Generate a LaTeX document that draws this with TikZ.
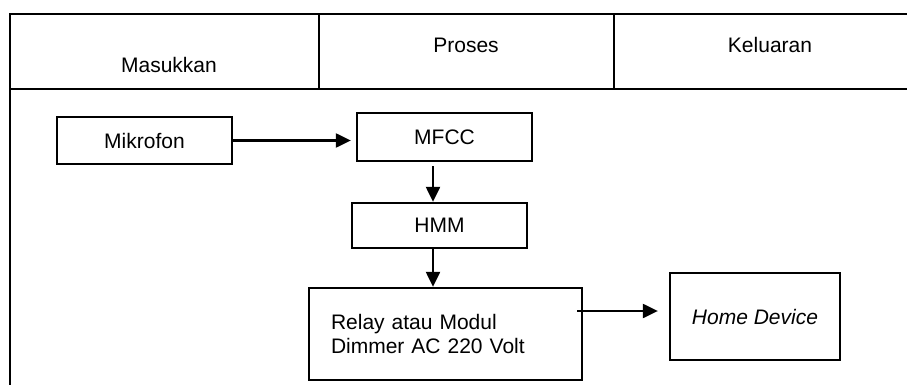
\documentclass[tikz,border=0pt]{standalone}
\usepackage{fontspec}
\setmainfont{Liberation Sans}
\usetikzlibrary{arrows.meta, positioning, calc}

\begin{document}
\begin{tikzpicture}[x=1pt, y=-1pt,
  font=\fontsize{21}{24}\selectfont,
  blok/.style={draw, line width=2.3pt, inner sep=0pt, minimum width=175pt, minimum height=47pt},
  garis/.style={line width=2.2pt},
  panah/.style={line width=2.2pt, -{Triangle[length=15pt, width=14pt]}}]
  \useasboundingbox (0,0) rectangle (907,385);

  % tabel
  \draw[garis] (907,14) -- (10,14) -- (10,385);
  \draw[garis] (10,89) -- (907,89);
  \draw[garis] (319,14) -- (319,89);
  \draw[garis] (614,14) -- (614,89);
  \node (masukkan) at (169,65) {Masukkan};
  \node (proses) at (466,45) {Proses};
  \node (keluaran) at (770,45) {Keluaran};

  % blok
  \node[blok] (mik) at (144.5,140.5) {Mikrofon};
  \node[blok, minimum height=48pt] (mfcc) at (444.5,137) {MFCC};
  \node[blok, minimum height=45pt] (hmm) at (439.5,225.5) {HMM};
  \node[blok, minimum width=273pt, minimum height=92pt, text width=229pt, inner xsep=22pt, align=left] (relay) at (445.5,334) {Relay atau Modul\\Dimmer AC 220 Volt};
  \node[blok, minimum width=170pt, minimum height=87pt] (home) at (755,316.5) {\itshape Home Device};

  % panah
  \coordinate (kolom) at (433,0);
  \coordinate (keluar) at (0,311);
  \draw[panah, shorten >=5pt] (mik.east) -- (mik.east -| mfcc.west);
  \draw[panah, shorten <=4pt] (mfcc.south -| kolom) -- (hmm.north -| kolom);
  \draw[panah] (hmm.south -| kolom) -- (relay.north -| kolom);
  \draw[panah, shorten <=-6pt, shorten >=11pt] (relay.east |- keluar) -- (home.west |- keluar);
\end{tikzpicture}
\end{document}
